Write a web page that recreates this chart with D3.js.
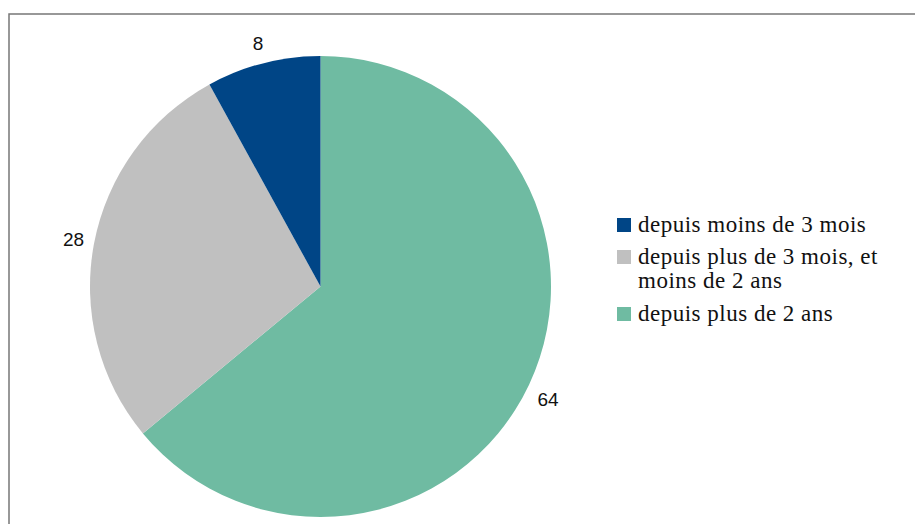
<!DOCTYPE html>
<html>
<head>
<meta charset="utf-8">
<script src="https://cdn.jsdelivr.net/npm/d3@7"></script>
<style>
  body { margin: 0; background: #fff; }
  svg { display: block; }
  .val { font-family: "Liberation Sans", Arial, sans-serif; font-size: 19px; fill: #111; }
  .leg { font-family: "Liberation Serif", "Times New Roman", serif; font-size: 23px; letter-spacing: 0.5px; fill: #111; }
</style>
</head>
<body>
<svg id="chart" width="915" height="524"></svg>
<script>
// pie data, clockwise from 12 o'clock
const categories = ['depuis plus de 2 ans', 'depuis plus de 3 mois, et moins de 2 ans', 'depuis moins de 3 mois'];
const values = [64, 28, 8];
const colors = ['#6fbba2', '#c0c0c0', '#004586'];

// legend order as in picture
const legendOrder = [2, 1, 0];
const legendLines = {
  0: ['depuis plus de 2 ans'],
  1: ['depuis plus de 3 mois, et', 'moins de 2 ans'],
  2: ['depuis moins de 3 mois']
};

const svg = d3.select('#chart');

// frame
svg.append('path')
  .attr('d', 'M9,530 V14 H930')
  .attr('fill', 'none')
  .attr('stroke', '#777')
  .attr('stroke-width', 1.5);

const cx = 320.5, cy = 286.5, R = 230.5;

const pie = d3.pie().sort(null).value(d => d)(values);
const arc = d3.arc().innerRadius(0).outerRadius(R);

const g = svg.append('g').attr('transform', `translate(${cx},${cy})`);

g.selectAll('path')
  .data(pie)
  .join('path')
  .attr('d', arc)
  .attr('fill', (d, i) => colors[i]);

// value labels outside the slices
const labelArc = d3.arc().innerRadius(R + 21).outerRadius(R + 21);
g.selectAll('text')
  .data(pie)
  .join('text')
  .attr('class', 'val')
  .attr('transform', d => {
    const [x, y] = labelArc.centroid(d);
    const mid = (d.startAngle + d.endAngle) / 2;
    // labels below the centre sit a bit lower
    const shift = Math.cos(mid) < 0 ? -Math.cos(mid) * 14 : 0;
    return `translate(${x},${y + shift})`;
  })
  .attr('text-anchor', 'middle')
  .attr('dy', '0.36em')
  .text(d => d.data);

// legend
const legY = [218, 250, 307];
const leg = svg.append('g');
legendOrder.forEach((idx, k) => {
  const row = leg.append('g').attr('transform', `translate(617,${legY[k]})`);
  row.append('rect')
    .attr('width', 14).attr('height', 14)
    .attr('fill', colors[idx]);
  const txt = row.append('text')
    .attr('class', 'leg')
    .attr('x', 21)
    .attr('y', 14);
  legendLines[idx].forEach((t, j) => {
    txt.append('tspan')
      .attr('x', 21)
      .attr('dy', j === 0 ? 0 : 24)
      .text(t);
  });
});
</script>
</body>
</html>
